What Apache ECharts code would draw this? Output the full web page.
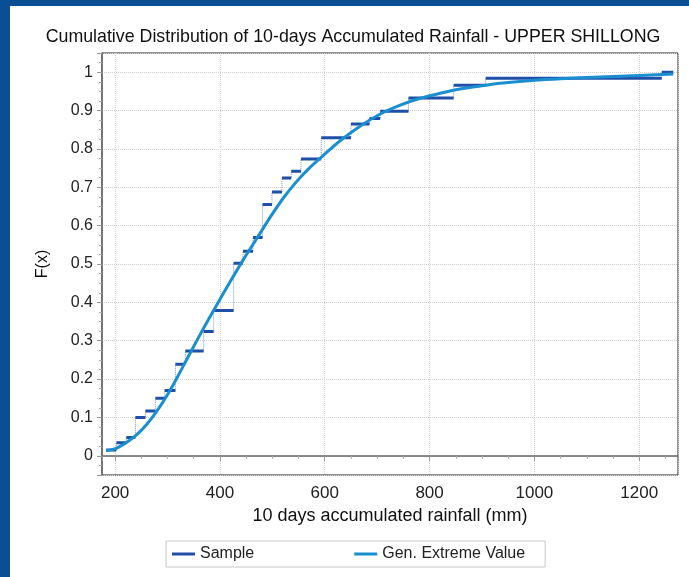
<!DOCTYPE html>
<html>
<head>
<meta charset="utf-8">
<script src="https://cdn.jsdelivr.net/npm/echarts@6/dist/echarts.min.js"></script>
<style>
  html, body { margin: 0; padding: 0; background: #0a4f94; }
  #panel { position: absolute; left: 10px; top: 6px; width: 679px; height: 571px; background: #fff; }
  #main { position: absolute; left: 0; top: 0; width: 689px; height: 577px; }
</style>
</head>
<body>
<div id="panel"></div>
<div id="main"></div>
<script>
// sample steps: start of each step, height of each step, end of the last one
var sampleX = [183, 202.5, 221.5, 238.7, 257.8, 276.8, 294.6, 315, 334, 368.9, 388, 426.1, 444, 463.1,
    481.4, 499.3, 518.4, 536.1, 554.6, 593.3, 650, 685.4, 705.8, 759.8, 846, 907, 1243];
var sampleF = [0.015, 0.034, 0.048, 0.1, 0.117, 0.15, 0.17, 0.239, 0.273, 0.324, 0.379, 0.502, 0.533, 0.569,
    0.655, 0.688, 0.724, 0.742, 0.774, 0.829, 0.865, 0.879, 0.898, 0.933, 0.966, 0.984, 1.0];
var sampleEnd = 1265;

// fitted Gen. Extreme Value curve
var gevX = [183, 204, 223, 242, 261, 280, 299, 318, 344, 369, 395, 420, 445, 471, 496, 521, 547, 572,
    598, 630, 668, 706, 744, 782, 820, 858, 897, 935, 1000, 1050, 1150, 1265];
var gevF = [0.013, 0.021, 0.036, 0.056, 0.083, 0.117, 0.157, 0.203, 0.270, 0.333, 0.396, 0.455, 0.512, 0.568,
    0.622, 0.672, 0.716, 0.752, 0.784, 0.822, 0.860, 0.891, 0.914, 0.932, 0.945, 0.956, 0.964, 0.971,
    0.979, 0.983, 0.989, 0.995];

var sampleColor = '#1f4fa6';
var gevColor = '#1a8fd0';
var font = '"Liberation Sans", Arial, sans-serif';

var steps = [];
var risers = [];
for (var i = 0; i < sampleX.length; i++) {
    var x2 = i + 1 < sampleX.length ? sampleX[i + 1] : sampleEnd;
    steps.push([sampleX[i], sampleF[i]], [x2, sampleF[i]], ['-', '-']);
    risers.push([sampleX[i], sampleF[i]]);
}
var gevData = gevX.map(function (x, i) { return [x, gevF[i]]; });

var chart = echarts.init(document.getElementById('main'));
chart.setOption({
    animation: false,
    textStyle: { fontFamily: font },
    title: {
        text: 'Cumulative Distribution of 10-days Accumulated Rainfall - UPPER SHILLONG',
        left: 348,
        textAlign: 'center',
        top: 23,
        textStyle: { fontSize: 17.8, fontWeight: 'normal', color: '#111', fontFamily: font }
    },
    legend: {
        left: 166,
        top: 541,
        padding: [5, 20, 5, 6],
        itemGap: 100,
        itemWidth: 23,
        itemHeight: 3,
        icon: 'rect',
        borderColor: '#c8c8c8',
        borderWidth: 1,
        textStyle: { fontSize: 16, color: '#222', fontFamily: font },
        data: ['Sample', 'Gen. Extreme Value']
    },
    grid: {
        left: 102, right: 11, top: 53, bottom: 102,
        show: true, borderColor: '#222', borderWidth: 1
    },
    xAxis: {
        type: 'value',
        min: 175, max: 1274,
        splitNumber: 5,
        name: '10 days accumulated rainfall (mm)',
        nameLocation: 'middle',
        nameGap: 32,
        nameTextStyle: { fontSize: 18, color: '#111' },
        axisLine: { lineStyle: { color: '#666', width: 1.5 } },
        axisTick: { length: 5, lineStyle: { color: '#999' } },
        minorTick: { show: true, splitNumber: 4, length: 3, lineStyle: { color: '#aaa' } },
        axisLabel: {
            fontSize: 17, color: '#222', margin: 10, showMinLabel: false, showMaxLabel: false,
            formatter: function (v) { return String(v); }
        },
        splitLine: { show: true, lineStyle: { color: '#d0d0d0', type: 'dotted' } }
    },
    yAxis: {
        type: 'value',
        min: -0.05, max: 1.05,
        splitNumber: 11,
        name: 'F(x)',
        nameLocation: 'middle',
        nameGap: 51,
        nameRotate: 90,
        nameTextStyle: { fontSize: 16, color: '#111' },
        axisLine: { show: true, lineStyle: { color: '#666', width: 1.5 } },
        axisTick: { show: true, length: 5, lineStyle: { color: '#999' } },
        minorTick: { show: true, splitNumber: 4, length: 3, lineStyle: { color: '#aaa' } },
        axisLabel: { fontSize: 16, color: '#222', margin: 9, showMinLabel: false, showMaxLabel: false },
        splitLine: { show: true, lineStyle: { color: '#d0d0d0', type: 'dotted' } }
    },
    series: [
        {
            name: 'Sample risers',
            type: 'line',
            step: 'end',
            data: risers.concat([[sampleEnd, sampleF[sampleF.length - 1]]]),
            showSymbol: false,
            silent: true,
            lineStyle: { color: sampleColor, width: 1, type: 'dotted', opacity: 0.6 },
            z: 2
        },
        {
            name: 'Sample',
            type: 'line',
            data: steps,
            showSymbol: false,
            itemStyle: { color: sampleColor },
            lineStyle: { color: sampleColor, width: 3 },
            z: 3
        },
        {
            name: 'Gen. Extreme Value',
            type: 'line',
            data: gevData,
            smooth: 0.3,
            showSymbol: false,
            itemStyle: { color: gevColor },
            lineStyle: { color: gevColor, width: 3 },
            z: 4
        }
    ]
});
</script>
</body>
</html>
